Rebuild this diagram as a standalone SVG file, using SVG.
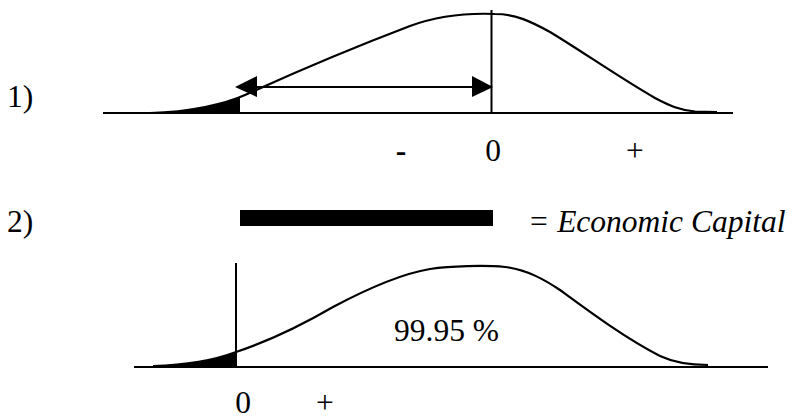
<svg xmlns="http://www.w3.org/2000/svg" width="793" height="420" viewBox="0 0 793 420">
  <style>
    .t { font-family: "Liberation Serif", "Times New Roman", serif; font-size: 31.5px; fill: #000; }
    .ln { stroke: #000; stroke-width: 2; fill: none; }
    .crv { stroke: #000; stroke-width: 2.2; fill: none; stroke-linejoin: round; }
    .sh { fill: #000; stroke: none; }
  </style>
  <defs>
    <clipPath id="clipTop"><rect x="140" y="0" width="100" height="114"/></clipPath>
    <clipPath id="clipBot"><rect x="140" y="250" width="96" height="118"/></clipPath>
  </defs>
  <rect width="793" height="420" fill="#fff"/>

  <g id="panel1">
    <text class="t" x="7" y="107">1)</text>
    <g id="dist1">
      <path class="sh" clip-path="url(#clipTop)" d="M150,113 C190,112 225,104 245,95 L245,113 Z"/>
      <path class="crv" d="M150,113 C190,112 225,104 245,95 C300,70 360,45 410,26 C440,15 470,13 495,14 C515,14 530,21 550,32 C580,50 620,78 655,98 C670,106 680,110 695,111.5 L717,112"/>
      <line class="ln" x1="103" y1="113" x2="733" y2="113"/>
      <line class="ln" x1="491.5" y1="10" x2="491.5" y2="113"/>
    </g>
    <g id="arrow1">
      <line class="ln" x1="255" y1="87" x2="475" y2="87"/>
      <polygon class="sh" points="235,87 257,76 257,97"/>
      <polygon class="sh" points="493,87 472,76 472,97"/>
    </g>
    <text class="t" x="401" y="161" text-anchor="middle" font-weight="bold">-</text>
    <text class="t" x="493" y="161" text-anchor="middle">0</text>
    <text class="t" x="635" y="161" text-anchor="middle">+</text>
  </g>

  <g id="panel2">
    <text class="t" x="7" y="232">2)</text>
    <g id="legend">
      <rect x="240" y="210" width="253" height="16" fill="#000"/>
      <text class="t" x="528" y="232" font-style="italic">= Economic Capital</text>
    </g>
    <g id="dist2">
      <path class="sh" clip-path="url(#clipBot)" d="M153,366 C190,365 215,360 236,352 L238,367 L153,367 Z"/>
      <path class="crv" d="M153,366 C190,365 215,360 236,352 C260,344 290,332 333,307 C365,290 400,274 430,269 C450,266 485,265 505,267 C528,270 545,280 560,290 C590,312 625,338 660,356 C675,363 690,365 708,365"/>
      <line class="ln" x1="134" y1="367" x2="768" y2="367"/>
      <line class="ln" x1="236" y1="263" x2="236" y2="367"/>
      <text class="t" x="394" y="341">99.95 %</text>
    </g>
    <text class="t" x="243" y="413" text-anchor="middle">0</text>
    <text class="t" x="325" y="413" text-anchor="middle">+</text>
  </g>
</svg>
